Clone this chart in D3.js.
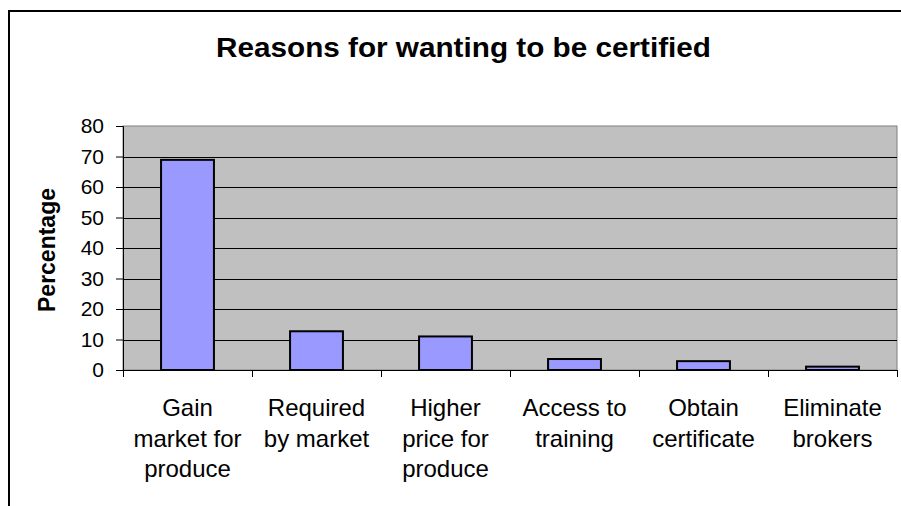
<!DOCTYPE html>
<html>
<head>
<meta charset="utf-8">
<script src="https://cdn.jsdelivr.net/npm/d3@7"></script>
<style>
  html, body { margin: 0; padding: 0; background: #fff; }
  svg { display: block; font-family: "Liberation Sans", Arial, sans-serif; }
</style>
</head>
<body>
<svg id="chart" width="901" height="506"></svg>
<script>
// Survey answers: why respondents want certification
const categories = [
  ["Gain", "market for", "produce"],
  ["Required", "by market"],
  ["Higher", "price for", "produce"],
  ["Access to", "training"],
  ["Obtain", "certificate"],
  ["Eliminate", "brokers"]
];
const percentages = [68.9, 12.7, 11.0, 3.6, 2.9, 1.1];
const yTicks = [0, 10, 20, 30, 40, 50, 60, 70, 80];

const svg = d3.select("#chart");
const plot = { left: 123, top: 126, right: 897, bottom: 370 };

// Chart frame
svg.append("rect")
  .attr("x", 9).attr("y", 11)
  .attr("width", 1000).attr("height", 600)
  .attr("fill", "#fff").attr("stroke", "#000").attr("stroke-width", 2);

svg.append("text")
  .attr("x", 463.5).attr("y", 57)
  .attr("text-anchor", "middle")
  .attr("font-size", 27).attr("font-weight", "bold")
  .attr("textLength", 495).attr("lengthAdjust", "spacingAndGlyphs")
  .text("Reasons for wanting to be certified");

const x = d3.scaleBand()
  .domain(d3.range(categories.length))
  .range([plot.left, plot.right])
  .paddingInner(0.59).paddingOuter(0.295);

const xCat = d3.scaleBand()
  .domain(d3.range(categories.length))
  .range([plot.left, plot.right]);

const y = d3.scaleLinear().domain([0, 80]).range([plot.bottom, plot.top]);

// Plot background
svg.append("rect")
  .attr("x", plot.left).attr("y", plot.top)
  .attr("width", plot.right - plot.left).attr("height", plot.bottom - plot.top)
  .attr("fill", "#c0c0c0").attr("stroke", "#808080").attr("stroke-width", 1);

// Gridlines
svg.append("g")
  .selectAll("line")
  .data(yTicks.filter(d => d > 0 && d < 80))
  .join("line")
  .attr("x1", plot.left).attr("x2", plot.right)
  .attr("y1", d => Math.round(y(d)) + 0.5).attr("y2", d => Math.round(y(d)) + 0.5)
  .attr("stroke", "#000").attr("stroke-width", 1);

// Bars
svg.append("g")
  .selectAll("rect")
  .data(percentages)
  .join("rect")
  .attr("x", (d, i) => x(i))
  .attr("y", d => y(d))
  .attr("width", x.bandwidth())
  .attr("height", d => y(0) - y(d))
  .attr("fill", "#9999ff").attr("stroke", "#000").attr("stroke-width", 2);

// Y axis
const yAxis = svg.append("g")
  .attr("transform", `translate(${plot.left},0)`)
  .call(d3.axisLeft(y).tickValues(yTicks).tickSize(7).tickPadding(12));
yAxis.select(".domain").attr("stroke", "#000");
yAxis.selectAll("text").attr("font-size", 21).attr("fill", "#000")
  .attr("font-family", "Liberation Sans, Arial, sans-serif");

// X axis with ticks on category boundaries
const xAxisG = svg.append("g");
xAxisG.append("line")
  .attr("x1", plot.left).attr("x2", plot.right)
  .attr("y1", plot.bottom + 0.5).attr("y2", plot.bottom + 0.5)
  .attr("stroke", "#000");
xAxisG.selectAll("line.tick")
  .data(d3.range(categories.length + 1))
  .join("line")
  .attr("class", "tick")
  .attr("x1", i => Math.round(plot.left + i * xCat.step()) + 0.5)
  .attr("x2", i => Math.round(plot.left + i * xCat.step()) + 0.5)
  .attr("y1", plot.bottom).attr("y2", plot.bottom + 7)
  .attr("stroke", "#000");

// Category labels
const labels = svg.append("g")
  .selectAll("text")
  .data(categories)
  .join("text")
  .attr("text-anchor", "middle")
  .attr("font-size", 24)
  .attr("x", (d, i) => xCat(i) + xCat.bandwidth() / 2)
  .attr("y", 416);
labels.selectAll("tspan")
  .data(d => d)
  .join("tspan")
  .attr("x", function() { return d3.select(this.parentNode).attr("x"); })
  .attr("dy", (d, i) => i === 0 ? 0 : 30.5)
  .text(d => d);

// Y axis title
svg.append("text")
  .attr("transform", "translate(55,250) rotate(-90)")
  .attr("text-anchor", "middle")
  .attr("font-size", 23).attr("font-weight", "bold")
  .text("Percentage");
</script>
</body>
</html>
